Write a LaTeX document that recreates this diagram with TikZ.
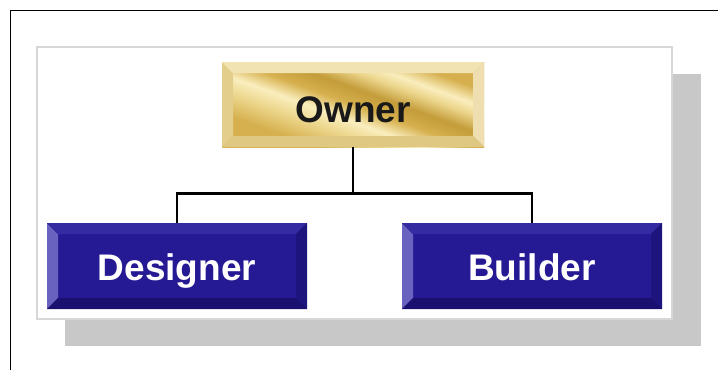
\documentclass[tikz,border=0pt]{standalone}
\usepackage{fontspec}
\setmainfont{Liberation Sans}
\usetikzlibrary{calc}

\definecolor{shadowgray}{RGB}{200,200,200}
\definecolor{panelborder}{RGB}{215,215,215}
\definecolor{blueface}{RGB}{38,26,148}
\definecolor{blueleft}{RGB}{105,98,190}
\definecolor{bluetop}{RGB}{52,42,162}
\definecolor{blueright}{RGB}{30,20,125}
\definecolor{bluebottom}{RGB}{26,16,112}
\definecolor{goldA}{RGB}{214,176,78}
\definecolor{goldB}{RGB}{236,214,140}
\definecolor{goldC}{RGB}{250,238,190}
\definecolor{goldD}{RGB}{196,156,58}
\definecolor{goldtop}{RGB}{242,228,178}
\definecolor{goldleft}{RGB}{228,206,140}
\definecolor{goldright}{RGB}{238,222,176}
\definecolor{goldbottom}{RGB}{222,200,130}

% diagonal light streaks for the gold face
\pgfdeclarehorizontalshading{goldstreak}{100bp}{%
  color(0bp)=(goldA); color(30bp)=(goldA); color(38bp)=(goldB);
  color(44bp)=(goldC); color(50bp)=(goldA); color(56bp)=(goldD);
  color(62bp)=(goldB); color(66bp)=(goldC); color(72bp)=(goldA);
  color(100bp)=(goldA)}

\def\bw{11pt}
% four bevel faces inside the current node: left, top, right, bottom
\newcommand\bevelfaces[4]{%
  \fill[#1] (path picture bounding box.south west) -- (path picture bounding box.north west)
    -- ($(path picture bounding box.north west)+(\bw,-\bw)$)
    -- ($(path picture bounding box.south west)+(\bw,\bw)$) -- cycle;
  \fill[#2] (path picture bounding box.north west) -- (path picture bounding box.north east)
    -- ($(path picture bounding box.north east)+(-\bw,-\bw)$)
    -- ($(path picture bounding box.north west)+(\bw,-\bw)$) -- cycle;
  \fill[#3] (path picture bounding box.north east) -- (path picture bounding box.south east)
    -- ($(path picture bounding box.south east)+(-\bw,\bw)$)
    -- ($(path picture bounding box.north east)+(-\bw,-\bw)$) -- cycle;
  \fill[#4] (path picture bounding box.south east) -- (path picture bounding box.south west)
    -- ($(path picture bounding box.south west)+(\bw,\bw)$)
    -- ($(path picture bounding box.south east)+(-\bw,\bw)$) -- cycle;
}

\tikzset{
  boxlabel/.style={font=\bfseries\fontsize{37}{40}\selectfont, inner sep=0pt},
  bluebox/.style={boxlabel, minimum width=260pt, minimum height=86pt,
    text height=32pt, text depth=4pt,
    fill=blueface, text=white,
    path picture={\bevelfaces{blueleft}{bluetop}{blueright}{bluebottom}}},
  goldbox/.style={boxlabel, minimum width=262pt, minimum height=85pt,
    text height=37pt, text depth=2pt,
    shading=goldstreak, shading angle=70, text={black!90},
    path picture={\bevelfaces{goldleft}{goldtop}{goldright}{goldbottom}}},
  conn/.style={line width=2.6pt, black},
}

\begin{document}
\begin{tikzpicture}[x=1pt,y=-1pt]
\useasboundingbox (0,0) rectangle (718,370);
\fill[white] (0,0) rectangle (718,370);

% frame edges
\draw[line width=1.6pt] (10.5,370) -- (10.5,10.5) -- (718,10.5);

% panel with drop shadow
\fill[shadowgray] (65,74) rectangle (701,346);
\draw[panelborder, line width=1.2pt, fill=white] (37,47) rectangle (672,319);

% organisation boxes
\node[goldbox] (owner) at (353,104.5) {Owner};
\node[bluebox] (designer) at (177,266) {Designer};
\node[bluebox] (builder) at (532,266) {Builder};

% reporting lines
\coordinate (junction) at ($(owner.south)+(0,-46pt)$);
\draw[conn] (owner.south) -- (junction);
\draw[conn] (designer.north) |- (junction);
\draw[conn] (builder.north) |- (junction);
\end{tikzpicture}
\end{document}
